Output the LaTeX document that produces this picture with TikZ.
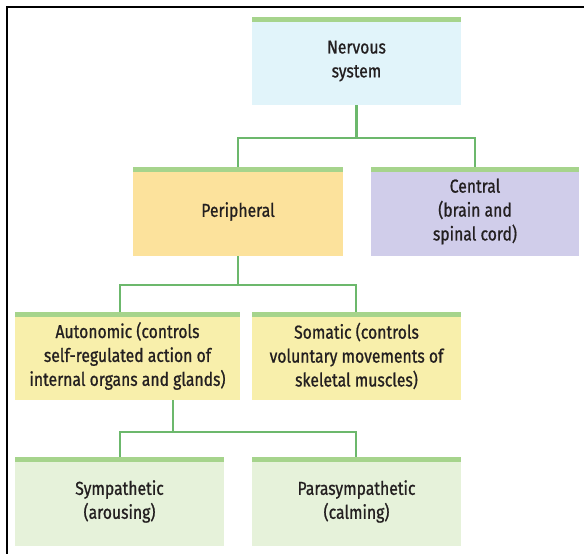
\documentclass[tikz,border=0pt]{standalone}
\usepackage{fontspec}
\setmainfont{Fira Sans}[FakeStretch=0.84,FakeBold=0.9]
\definecolor{barc}{HTML}{A6D48C}
\definecolor{linec}{HTML}{6CB86C}
\definecolor{bluec}{HTML}{E1F4FA}
\definecolor{orangec}{HTML}{FCE29C}
\definecolor{purplec}{HTML}{D0CDEA}
\definecolor{yellowc}{HTML}{F8EFAB}
\definecolor{greenc}{HTML}{E6F2DA}
\definecolor{textc}{HTML}{231F20}
\tikzset{
  boxn/.style={rectangle, inner sep=0pt, align=center, text=textc,
    font=\fontsize{18.8}{24}\selectfont,
    path picture={\fill[barc] (path picture bounding box.north west) rectangle ([yshift=-5bp]path picture bounding box.north east);}},
  conn/.style={draw=linec, line width=2.6bp}
}
\begin{document}
\begin{tikzpicture}[x=1bp,y=-1bp]
\useasboundingbox (0,0) rectangle (584,554);
\draw[line width=2.2bp] (7,554) -- (7,7) -- (584,7);
\node[boxn, fill=bluec, minimum width=209bp, minimum height=88bp] (ns) at (356.5,61) {Nervous\\system};
\node[boxn, fill=orangec, minimum width=210bp, minimum height=89bp] (per) at (238,211.5) {Peripheral};
\node[boxn, fill=purplec, minimum width=208bp, minimum height=89bp] (cen) at (475,211.5) {Central\\(brain and\\spinal cord)};
\node[boxn, fill=yellowc, minimum width=225bp, minimum height=88bp] (aut) at (127.5,356) {Autonomic (controls\\self-regulated action of\\internal organs and glands)};
\node[boxn, fill=yellowc, minimum width=209bp, minimum height=88bp] (som) at (356.5,356) {Somatic (controls\\voluntary movements of\\skeletal muscles)};
\node[boxn, fill=greenc, minimum width=209bp, minimum height=89bp] (sym) at (119.5,501.5) {Sympathetic\\(arousing)};
\node[boxn, fill=greenc, minimum width=209bp, minimum height=89bp] (par) at (356.5,501.5) {Parasympathetic\\(calming)};
\coordinate (j1) at (356.5,138);
\coordinate (j2) at (238,285);
\coordinate (j3) at (173,432);
\draw[conn] (ns.south) -- (j1);
\draw[conn] (per.north) -- (per.north |- j1) -- (cen.north |- j1) -- (cen.north);
\draw[conn] (per.south) -- (j2);
\draw[conn] (aut.north -| 120,0) -- (120,285) -- (356,285) -- (som.north -| 356,0);
\draw[conn] (aut.south -| j3) -- (j3);
\draw[conn] (sym.north -| 120,0) -- (120,432) -- (356,432) -- (par.north -| 356,0);
\end{tikzpicture}
\end{document}
